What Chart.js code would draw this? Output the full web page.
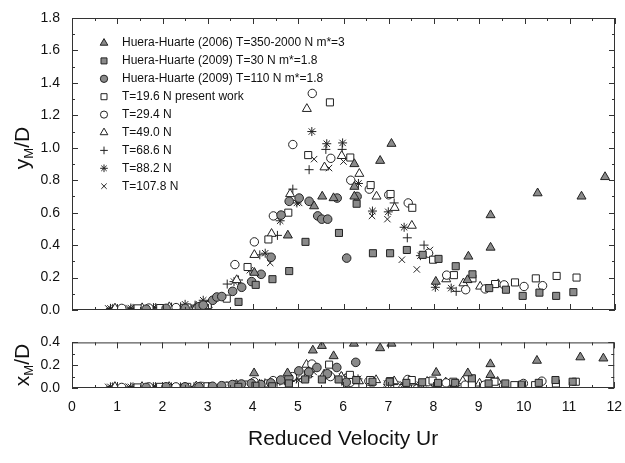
<!DOCTYPE html>
<html>
<head>
<meta charset="utf-8">
<script src="https://cdn.jsdelivr.net/npm/chart.js@4.4.1/dist/chart.umd.min.js"></script>
<style>
  body { margin: 0; background: #fff; }
  #wrap { position: relative; width: 625px; height: 463px; }
  #topChart { position: absolute; left: 0; top: 0; }
  #botChart { position: absolute; left: 0; top: 330px; }
</style>
</head>
<body>
<div id="wrap">
  <canvas id="topChart" width="625" height="330" style="width:625px;height:330px"></canvas>
  <canvas id="botChart" width="625" height="133" style="width:625px;height:133px"></canvas>
</div>
<script>
// legend text, same order as the series below
const seriesNames = [
  "Huera-Huarte (2006) T=350-2000 N m*=3",
  "Huera-Huarte (2009) T=30 N m*=1.8",
  "Huera-Huarte (2009) T=110 N m*=1.8",
  "T=19.6 N present work",
  "T=29.4 N",
  "T=49.0 N",
  "T=68.6 N",
  "T=88.2 N",
  "T=107.8 N"
];

// x axis ticks (reduced velocity Ur)
const urTicks = [0, 1, 2, 3, 4, 5, 6, 7, 8, 9, 10, 11, 12];
const yTopTicks = [0, 0.2, 0.4, 0.6, 0.8, 1.0, 1.2, 1.4, 1.6, 1.8];
const yBotTicks = [0, 0.2, 0.4];

// ---- top panel: yM/D, pairs of [Ur, value] ----
const hh2006Top = [[4.03,0.23],[4.77,0.46],[5.35,0.64],[5.53,0.70],[5.78,0.69],[6.24,0.90],[6.24,0.76],[6.24,0.70],
  [6.81,0.92],[7.06,1.025],[8.04,0.175],[8.74,0.185],[8.76,0.33],[9.25,0.385],[9.25,0.585],[10.29,0.72],[11.26,0.70],[11.78,0.82]];
const hh2009aTop = [[3.68,0.05],[4.06,0.155],[4.43,0.19],[4.80,0.24],[5.16,0.42],[5.90,0.475],[6.29,0.655],[6.65,0.35],
  [7.03,0.35],[7.40,0.37],[7.75,0.34],[8.10,0.315],[8.48,0.27],[8.85,0.22],[9.22,0.135],[9.59,0.125],[9.96,0.087],
  [10.33,0.107],[10.70,0.087],[11.08,0.11]];
const hh2009bTop = [[1.64,0.005],[2.08,0.01],[2.50,0.01],[2.81,0.02],[2.90,0.03],[3.11,0.06],[3.20,0.08],[3.31,0.083],
  [3.55,0.115],[3.75,0.14],[3.97,0.175],[4.18,0.22],[4.40,0.325],[4.62,0.585],[4.80,0.67],[5.02,0.69],[5.24,0.67],
  [5.43,0.58],[5.52,0.56],[5.65,0.56],[5.86,0.69],[6.07,0.32],[6.30,0.70]];
const t196Top = [[1.45,0.01],[1.95,0.012],[2.55,0.015],[3.0,0.03],[3.42,0.07],[3.88,0.265],[4.34,0.435],[4.78,0.60],
  [5.22,0.955],[5.70,1.28],[6.15,0.94],[6.60,0.77],[7.04,0.715],[7.52,0.63],[7.98,0.31],[8.44,0.215],[8.85,0.195],
  [9.35,0.16],[9.79,0.17],[10.25,0.195],[10.71,0.21],[11.15,0.20]];
const t294Top = [[1.1,0.01],[1.7,0.012],[2.3,0.015],[2.85,0.025],[3.60,0.28],[4.03,0.42],[4.45,0.58],[4.88,1.02],
  [5.31,1.335],[5.72,0.935],[6.16,0.80],[6.57,0.745],[7.00,0.71],[7.43,0.66],[7.88,0.35],[8.28,0.215],[8.70,0.125],
  [9.13,0.13],[9.55,0.155],[9.99,0.145],[10.40,0.15]];
const t490Top = [[0.95,0.01],[1.55,0.012],[2.15,0.018],[2.75,0.02],[3.0,0.03],[3.64,0.185],[4.03,0.34],[4.41,0.47],
  [4.82,0.715],[5.19,1.24],[5.58,0.88],[5.96,0.95],[6.35,0.84],[6.73,0.70],[7.13,0.63],[7.51,0.52],[8.27,0.19],
  [8.65,0.165],[9.02,0.145],[9.42,0.16]];
const t686Top = [[0.9,0.01],[1.35,0.01],[1.85,0.015],[2.4,0.02],[2.72,0.03],[3.43,0.16],[3.68,0.185],[4.15,0.34],
  [4.54,0.46],[4.88,0.745],[5.24,0.865],[5.61,0.99],[5.97,0.99],[7.12,0.66],[7.41,0.445],[7.78,0.40],[8.49,0.115]];
const t882Top = [[0.85,0.01],[1.3,0.012],[1.8,0.015],[2.2,0.018],[2.50,0.035],[2.90,0.06],[3.58,0.175],[3.93,0.245],
  [4.27,0.35],[4.60,0.55],[4.97,0.66],[5.30,1.10],[5.63,1.025],[5.98,1.03],[6.33,0.78],[6.64,0.61],[6.99,0.605],
  [7.34,0.51],[7.70,0.335],[8.03,0.14],[8.38,0.135]];
const t1078Top = [[0.8,0.01],[1.25,0.012],[1.75,0.015],[2.25,0.015],[2.65,0.02],[3.0,0.03],[4.38,0.29],[5.02,0.66],
  [5.35,0.93],[5.68,0.875],[6.00,0.915],[6.63,0.58],[6.97,0.56],[7.29,0.31],[7.62,0.25],[7.91,0.37]];

// ---- bottom panel: xM/D ----
const hh2006Bot = [[4.03,0.13],[4.77,0.13],[5.33,0.33],[5.53,0.37],[5.79,0.28],[6.24,0.39],[6.82,0.35],[7.07,0.39],
  [8.06,0.135],[8.76,0.13],[9.26,0.21],[9.26,0.115],[10.29,0.24],[11.25,0.27],[11.76,0.26]];
const hh2009aBot = [[3.68,0.01],[4.06,0.02],[4.43,0.015],[4.80,0.04],[5.16,0.075],[5.53,0.075],[5.90,0.075],[6.29,0.07],
  [6.65,0.055],[7.03,0.055],[7.40,0.045],[7.75,0.05],[8.10,0.045],[8.48,0.045],[8.85,0.085],[9.22,0.04],[9.59,0.04],
  [9.96,0.03],[10.33,0.045],[10.70,0.07],[11.08,0.055]];
const hh2009bBot = [[1.64,0.005],[2.08,0.01],[2.50,0.01],[2.81,0.01],[3.11,0.015],[3.31,0.02],[3.55,0.03],[3.75,0.035],
  [3.97,0.04],[4.18,0.03],[4.40,0.045],[4.62,0.07],[4.80,0.09],[5.02,0.15],[5.24,0.14],[5.42,0.18],[5.65,0.125],
  [5.86,0.18],[6.07,0.05],[6.28,0.225]];
const t196Bot = [[1.45,0.005],[1.95,0.01],[2.55,0.01],[3.0,0.015],[3.42,0.02],[3.88,0.03],[4.34,0.04],[4.78,0.06],
  [5.22,0.12],[5.69,0.205],[6.15,0.115],[6.60,0.07],[7.04,0.06],[7.52,0.07],[7.98,0.065],[8.44,0.055],[8.85,0.035],
  [9.35,0.055],[9.79,0.025],[10.25,0.025],[10.71,0.04],[11.15,0.055]];
const t294Bot = [[1.1,0.005],[1.7,0.01],[2.3,0.01],[2.85,0.015],[3.60,0.025],[4.03,0.055],[4.45,0.065],[4.88,0.10],
  [5.31,0.21],[5.72,0.10],[6.16,0.05],[6.57,0.06],[7.00,0.04],[7.43,0.075],[7.88,0.055],[8.28,0.045],[8.70,0.025],
  [9.13,0.025],[9.55,0.02],[9.99,0.04],[10.40,0.06]];
const t490Bot = [[0.95,0.01],[1.55,0.01],[2.15,0.01],[2.75,0.015],[3.64,0.03],[4.03,0.035],[4.41,0.045],[4.82,0.08],
  [5.19,0.205],[5.58,0.12],[5.96,0.10],[6.35,0.06],[6.73,0.07],[7.13,0.06],[7.51,0.05],[7.86,0.055],[8.27,0.05],
  [8.65,0.06],[9.02,0.04],[9.42,0.055]];
const t686Bot = [[0.9,0.01],[1.35,0.01],[1.85,0.012],[2.4,0.01],[2.7,0.012],[3.43,0.02],[3.68,0.025],[4.15,0.04],
  [4.54,0.05],[4.88,0.07],[5.24,0.10],[5.61,0.08],[5.97,0.06],[6.35,0.04],[7.12,0.03],[7.41,0.03],[7.78,0.035],[8.49,0.02]];
const t882Bot = [[0.85,0.01],[1.3,0.01],[1.8,0.012],[2.2,0.01],[2.5,0.012],[2.9,0.015],[3.58,0.025],[3.93,0.035],
  [4.27,0.045],[4.60,0.06],[4.97,0.08],[5.30,0.18],[5.63,0.12],[5.98,0.10],[6.33,0.08],[6.64,0.03],[6.99,0.03],
  [7.34,0.03],[7.70,0.03],[8.04,0.018],[8.38,0.018]];
const t1078Bot = [[0.8,0.01],[1.25,0.012],[1.75,0.01],[2.25,0.012],[2.65,0.01],[3.0,0.015],[4.38,0.035],[5.02,0.07],
  [5.35,0.14],[5.68,0.12],[6.00,0.10],[6.63,0.05],[6.97,0.04],[7.29,0.035],[7.62,0.035],[7.91,0.04]];

const topSeries = [hh2006Top, hh2009aTop, hh2009bTop, t196Top, t294Top, t490Top, t686Top, t882Top, t1078Top];
const botSeries = [hh2006Bot, hh2009aBot, hh2009bBot, t196Bot, t294Bot, t490Bot, t686Bot, t882Bot, t1078Bot];

// marker look for each series
const GRAY = "#8a8a8a", INK = "#222";
const markers = [
  { pointStyle: "triangle", radius: 5.2, fill: GRAY },
  { pointStyle: "rect", radius: 5, fill: GRAY },
  { pointStyle: "circle", radius: 4.3, fill: GRAY },
  { pointStyle: "rect", radius: 5, fill: "#fff" },
  { pointStyle: "circle", radius: 4.2, fill: "#fff" },
  { pointStyle: "triangle", radius: 5.2, fill: "#fff" },
  { pointStyle: "cross", radius: 4.5, fill: "#fff" },
  { pointStyle: "star", radius: 4.5, fill: "#fff" },
  { pointStyle: "crossRot", radius: 4.5, fill: "#fff" }
];

const FONT = "'Liberation Sans', Arial, Helvetica, sans-serif";
const AXIS_W = 72;

function makeDatasets(list) {
  return list.map(function (pts, i) {
    return {
      label: seriesNames[i],
      data: pts.map(function (p) { return { x: p[0], y: p[1] }; }),
      pointStyle: markers[i].pointStyle,
      pointRadius: markers[i].radius,
      backgroundColor: markers[i].fill,
      borderColor: INK,
      borderWidth: 1,
      showLine: false
    };
  });
}

// box around the plot with small inward ticks on all four sides
const framePlugin = {
  id: "frame",
  afterDraw(chart, args, opts) {
    const ctx = chart.ctx, a = chart.chartArea;
    const xs = chart.scales.x, ys = chart.scales.y;
    ctx.save();
    ctx.strokeStyle = "#333";
    ctx.lineWidth = 1;
    ctx.strokeRect(a.left + 0.5, a.top + 0.5, a.right - a.left - 1, a.bottom - a.top - 1);
    ctx.beginPath();
    for (let i = 0; i <= 24; i++) {
      const px = Math.round(xs.getPixelForValue(i / 2)) + 0.5;
      const len = i % 2 === 0 ? 6 : 3;
      ctx.moveTo(px, a.bottom); ctx.lineTo(px, a.bottom - len);
      ctx.moveTo(px, a.top); ctx.lineTo(px, a.top + len);
    }
    const n = Math.round(opts.max / 0.1);
    for (let i = 0; i <= n; i++) {
      const py = Math.round(ys.getPixelForValue(i * 0.1)) + 0.5;
      const len = i % 2 === 0 ? 6 : 3;
      ctx.moveTo(a.left, py); ctx.lineTo(a.left + len, py);
      ctx.moveTo(a.right, py); ctx.lineTo(a.right - len, py);
    }
    ctx.stroke();

    // rotated axis title with subscript
    const t = opts.title;
    ctx.translate(t.x, t.y);
    ctx.rotate(-Math.PI / 2);
    ctx.fillStyle = "#111";
    ctx.textBaseline = "alphabetic";
    const big = "21px " + FONT, small = "13px " + FONT;
    ctx.font = big; const w1 = ctx.measureText(t.main).width; const w3 = ctx.measureText(t.rest).width;
    ctx.font = small; const w2 = ctx.measureText(t.sub).width;
    let x0 = -(w1 + w2 + w3) / 2;
    ctx.font = big; ctx.fillText(t.main, x0, 7);
    ctx.font = small; ctx.fillText(t.sub, x0 + w1, 11);
    ctx.font = big; ctx.fillText(t.rest, x0 + w1 + w2, 7);
    ctx.restore();
  }
};

// legend listed in the upper left of the top panel
const legendPlugin = {
  id: "innerLegend",
  afterDraw(chart) {
    const ctx = chart.ctx;
    ctx.save();
    ctx.font = "12px " + FONT;
    ctx.textBaseline = "middle";
    seriesNames.forEach(function (name, i) {
      const y = 43 + i * 17.9;
      ctx.fillStyle = markers[i].fill;
      ctx.strokeStyle = INK;
      ctx.lineWidth = 1;
      Chart.helpers.drawPoint(ctx, { pointStyle: markers[i].pointStyle, radius: markers[i].radius * 0.85, rotation: 0, borderWidth: 1 }, 104, y);
      ctx.fillStyle = "#111";
      ctx.fillText(name, 122, y);
    });
    ctx.restore();
  }
};

function yAxis(max, ticks) {
  return {
    type: "linear", min: 0, max: max,
    afterBuildTicks: function (s) { s.ticks = ticks.map(function (v) { return { value: v }; }); },
    ticks: { callback: function (v) { return v.toFixed(1); }, font: { size: 14, family: FONT }, color: "#111", padding: 4 },
    grid: { display: false }, border: { display: false },
    afterFit: function (s) { s.width = AXIS_W; }
  };
}

new Chart(document.getElementById("topChart"), {
  type: "scatter",
  data: { datasets: makeDatasets(topSeries) },
  options: {
    responsive: false, animation: false, devicePixelRatio: 1,
    layout: { padding: { left: 0, right: 10, top: 18, bottom: 20 } },
    scales: {
      x: { type: "linear", min: 0, max: 12, display: false },
      y: yAxis(1.8, yTopTicks)
    },
    plugins: {
      legend: { display: false }, tooltip: { enabled: false },
      frame: { max: 1.8, title: { x: 22, y: 148, main: "y", sub: "M", rest: "/D" } }
    }
  },
  plugins: [framePlugin, legendPlugin]
});

new Chart(document.getElementById("botChart"), {
  type: "scatter",
  data: { datasets: makeDatasets(botSeries) },
  options: {
    responsive: false, animation: false, devicePixelRatio: 1,
    layout: { padding: { left: 0, right: 10, top: 11, bottom: 0 } },
    scales: {
      x: {
        type: "linear", min: 0, max: 12,
        afterBuildTicks: function (s) { s.ticks = urTicks.map(function (v) { return { value: v }; }); },
        ticks: { font: { size: 14, family: FONT }, color: "#111", padding: 3, autoSkip: false, maxRotation: 0 },
        grid: { display: false }, border: { display: false },
        title: { display: true, text: "Reduced Velocity Ur", font: { size: 21, family: FONT }, color: "#111", padding: { top: 4, bottom: 11 } },
        afterFit: function (s) { s.height = 75; }
      },
      y: yAxis(0.4, yBotTicks)
    },
    plugins: {
      legend: { display: false }, tooltip: { enabled: false },
      frame: { max: 0.4, title: { x: 22, y: 35, main: "x", sub: "M", rest: "/D" } }
    }
  },
  plugins: [framePlugin]
});
</script>
</body>
</html>
